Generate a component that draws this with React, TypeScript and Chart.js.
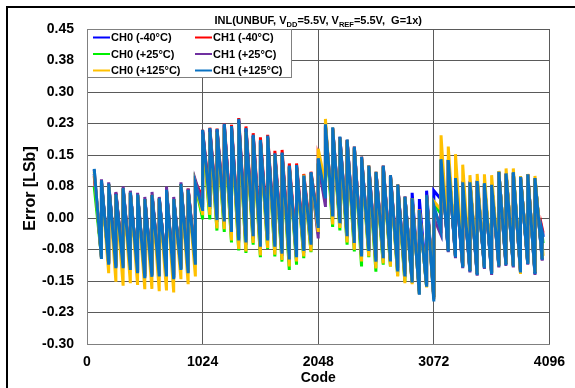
import React, { useEffect, useRef } from "react";
import { Chart, registerables } from "chart.js";

Chart.register(...registerables);

const FONT = '"Liberation Sans", Arial, sans-serif';

const SERIES_NAMES = ["CH0 (-40°C)", "CH1 (-40°C)", "CH0 (+25°C)", "CH1 (+25°C)", "CH0 (+125°C)", "CH1 (+125°C)"];
const SERIES_COLORS = ["#0000FF", "#FF0000", "#00F000", "#7030A0", "#FFC000", "#0A72C2"];

const X_TICKS = [0, 1024, 2048, 3072, 4096];
const Y_TICKS = [-0.3, -0.225, -0.15, -0.075, 0, 0.075, 0.15, 0.225, 0.3, 0.375, 0.45];
const Y_TICK_LABELS = ["-0.30", "-0.23", "-0.15", "-0.08", "0.00", "0.08", "0.15", "0.23", "0.30", "0.38", "0.45"];

// each tooth of the sawtooth spans 64 codes: peak at 64k, trough at 64k+63
const TOOTH = 64;
const LAST_CODE = 4040;

// CH0 (-40°C)
const CH0_M40_PEAKS = [
  0.105, 0.085, 0.08, 0.058, 0.07, 0.06, 0.055, 0.045, 0.055, 0.046, 0.066, 0.045, 0.08, 0.068, 0.085,
  0.205, 0.21, 0.208, 0.22, 0.215, 0.23, 0.21, 0.195, 0.183, 0.192, 0.15, 0.152, 0.122, 0.122, 0.098, 0.105,
  0.14, 0.218, 0.212, 0.19, 0.184, 0.167, 0.144, 0.122, 0.108, 0.122, 0.1, 0.078, 0.05, 0.06, 0.045, 0.065,
  0.065, 0.138, 0.138, 0.095, 0.088, 0.088, 0.09, 0.082, 0.08, 0.11, 0.106, 0.108, 0.098, 0.104, 0.094,
  -0.03,
];
const CH0_M40_TROUGHS = [
  -0.09, -0.104, -0.112, -0.112, -0.116, -0.124, -0.135, -0.135, -0.132, -0.132, -0.138, -0.116, -0.124, -0.104, 0.03,
  0.035, 0.0, 0.0, -0.025, -0.045, -0.05, -0.035, -0.06, -0.045, -0.06, -0.08, -0.09, -0.085, -0.07, -0.055, -0.02,
  0.05, 0.005, -0.01, -0.04, -0.055, -0.085, -0.072, -0.1, -0.09, -0.098, -0.12, -0.13, -0.145, -0.17, -0.155, -0.185,
  0.045, -0.074, -0.088, -0.112, -0.122, -0.13, -0.114, -0.128, -0.11, -0.11, -0.11, -0.125, -0.105, -0.128, -0.095,
  -0.045,
];

// CH1 (-40°C)
const CH1_M40_PEAKS = [
  0.1, 0.085, 0.08, 0.06, 0.07, 0.06, 0.055, 0.045, 0.055, 0.047, 0.065, 0.045, 0.08, 0.07, 0.085,
  0.21, 0.215, 0.213, 0.226, 0.222, 0.238, 0.218, 0.202, 0.192, 0.198, 0.16, 0.162, 0.13, 0.13, 0.105, 0.11,
  0.14, 0.22, 0.214, 0.192, 0.186, 0.17, 0.146, 0.125, 0.11, 0.125, 0.102, 0.08, 0.051, 0.047, 0.02, 0.055,
  0.02, 0.138, 0.138, 0.092, 0.082, 0.083, 0.085, 0.077, 0.077, 0.108, 0.105, 0.1, 0.098, 0.104, 0.092,
  -0.025,
];
const CH1_M40_TROUGHS = [
  -0.085, -0.1, -0.108, -0.108, -0.112, -0.12, -0.13, -0.13, -0.128, -0.128, -0.132, -0.112, -0.12, -0.1, 0.05,
  0.045, 0.01, 0.01, -0.015, -0.035, -0.04, -0.025, -0.05, -0.035, -0.05, -0.07, -0.08, -0.075, -0.06, -0.045, -0.01,
  0.06, 0.01, -0.005, -0.035, -0.05, -0.08, -0.07, -0.095, -0.085, -0.095, -0.115, -0.13, -0.145, -0.17, -0.155, -0.185,
  -0.02, -0.072, -0.088, -0.11, -0.12, -0.128, -0.112, -0.125, -0.108, -0.108, -0.108, -0.122, -0.102, -0.125, -0.09,
  -0.035,
];

// CH0 (+25°C)
const CH0_P25_PEAKS = [
  0.075, 0.085, 0.08, 0.055, 0.068, 0.06, 0.055, 0.045, 0.053, 0.045, 0.065, 0.045, 0.078, 0.065, 0.078,
  0.2, 0.205, 0.205, 0.215, 0.21, 0.225, 0.205, 0.19, 0.18, 0.19, 0.148, 0.15, 0.12, 0.12, 0.098, 0.103,
  0.13, 0.215, 0.21, 0.188, 0.18, 0.165, 0.14, 0.12, 0.105, 0.12, 0.098, 0.076, 0.048, 0.044, 0.017, 0.05,
  0.035, 0.14, 0.14, 0.1, 0.085, 0.085, 0.088, 0.083, 0.08, 0.11, 0.105, 0.108, 0.098, 0.103, 0.094,
  -0.04,
];
const CH0_P25_TROUGHS = [
  -0.09, -0.105, -0.112, -0.112, -0.118, -0.125, -0.135, -0.136, -0.133, -0.133, -0.138, -0.118, -0.125, -0.105, 0.0,
  0.0, -0.03, -0.03, -0.055, -0.074, -0.08, -0.06, -0.09, -0.07, -0.088, -0.104, -0.12, -0.108, -0.092, -0.078, -0.035,
  0.04, -0.018, -0.026, -0.06, -0.076, -0.112, -0.09, -0.128, -0.108, -0.112, -0.134, -0.148, -0.15, -0.176, -0.16, -0.185,
  0.01, -0.075, -0.088, -0.112, -0.122, -0.13, -0.115, -0.128, -0.11, -0.11, -0.11, -0.124, -0.105, -0.128, -0.094,
  -0.06,
];

// CH1 (+25°C)
const CH1_P25_PEAKS = [
  0.115, 0.092, 0.085, 0.062, 0.075, 0.065, 0.06, 0.05, 0.062, 0.05, 0.075, 0.05, 0.085, 0.07, 0.09,
  0.208, 0.212, 0.21, 0.222, 0.216, 0.232, 0.212, 0.196, 0.184, 0.194, 0.152, 0.154, 0.123, 0.124, 0.1, 0.107,
  0.13, 0.22, 0.214, 0.192, 0.185, 0.168, 0.145, 0.123, 0.108, 0.123, 0.1, 0.078, 0.05, 0.046, 0.018, 0.053,
  0.0, 0.138, 0.138, 0.092, 0.085, 0.085, 0.088, 0.08, 0.08, 0.11, 0.106, 0.108, 0.098, 0.104, 0.094,
  -0.03,
];
const CH1_P25_TROUGHS = [
  -0.092, -0.106, -0.114, -0.114, -0.118, -0.126, -0.138, -0.138, -0.134, -0.134, -0.14, -0.118, -0.126, -0.106, 0.035,
  0.025, -0.01, -0.01, -0.035, -0.055, -0.06, -0.045, -0.07, -0.055, -0.07, -0.09, -0.1, -0.095, -0.08, -0.065, -0.045,
  0.03, 0.0, -0.012, -0.043, -0.06, -0.09, -0.078, -0.106, -0.094, -0.102, -0.126, -0.138, -0.15, -0.178, -0.16, -0.19,
  -0.04, -0.078, -0.092, -0.116, -0.126, -0.134, -0.118, -0.132, -0.114, -0.114, -0.114, -0.128, -0.108, -0.132, -0.098,
  -0.04,
];

// CH0 (+125°C)
const CH0_P125_PEAKS = [
  0.11, 0.085, 0.08, 0.055, 0.07, 0.06, 0.055, 0.045, 0.055, 0.045, 0.065, 0.045, 0.08, 0.065, 0.08,
  0.2, 0.205, 0.205, 0.215, 0.21, 0.225, 0.205, 0.19, 0.18, 0.19, 0.15, 0.15, 0.12, 0.12, 0.103, 0.105,
  0.165, 0.236, 0.215, 0.19, 0.185, 0.168, 0.145, 0.125, 0.11, 0.122, 0.1, 0.08, 0.05, 0.047, 0.02, 0.05,
  0.04, 0.197, 0.17, 0.152, 0.127, 0.102, 0.105, 0.104, 0.102, 0.112, 0.118, 0.118, 0.1, 0.105, 0.1,
  -0.06,
];
const CH0_P125_TROUGHS = [
  -0.094, -0.128, -0.148, -0.158, -0.152, -0.156, -0.166, -0.169, -0.171, -0.169, -0.174, -0.142, -0.154, -0.136, 0.01,
  0.011, -0.025, -0.023, -0.05, -0.07, -0.076, -0.056, -0.086, -0.068, -0.084, -0.1, -0.112, -0.1, -0.088, -0.076, -0.03,
  0.08, -0.012, -0.02, -0.055, -0.072, -0.1, -0.088, -0.12, -0.105, -0.112, -0.136, -0.152, -0.154, -0.178, -0.162, -0.19,
  0.02, -0.07, -0.085, -0.11, -0.12, -0.128, -0.112, -0.126, -0.11, -0.108, -0.11, -0.13, -0.103, -0.125, -0.093,
  -0.09,
];

// CH1 (+125°C)
const CH1_P125_PEAKS = [
  0.117, 0.09, 0.082, 0.057, 0.071, 0.061, 0.056, 0.045, 0.055, 0.047, 0.067, 0.045, 0.081, 0.067, 0.082,
  0.21, 0.214, 0.212, 0.225, 0.219, 0.236, 0.214, 0.198, 0.186, 0.196, 0.154, 0.156, 0.125, 0.126, 0.101, 0.109,
  0.142, 0.223, 0.216, 0.194, 0.187, 0.17, 0.146, 0.125, 0.11, 0.125, 0.102, 0.08, 0.051, 0.047, 0.019, 0.055,
  0.03, 0.14, 0.138, 0.095, 0.085, 0.085, 0.088, 0.083, 0.079, 0.11, 0.106, 0.109, 0.098, 0.104, 0.095,
  -0.035,
];
const CH1_P125_TROUGHS = [
  -0.094, -0.108, -0.116, -0.116, -0.12, -0.128, -0.14, -0.14, -0.136, -0.136, -0.142, -0.12, -0.128, -0.108, 0.02,
  0.03, -0.005, -0.005, -0.03, -0.05, -0.055, -0.04, -0.065, -0.05, -0.065, -0.085, -0.095, -0.09, -0.075, -0.06, -0.02,
  0.05, 0.007, -0.009, -0.04, -0.056, -0.088, -0.075, -0.104, -0.092, -0.1, -0.124, -0.136, -0.15, -0.179, -0.16, -0.195,
  -0.03, -0.076, -0.09, -0.114, -0.124, -0.132, -0.116, -0.13, -0.112, -0.112, -0.112, -0.126, -0.106, -0.13, -0.096,
  -0.045,
];

const SERIES_PEAKS = [CH0_M40_PEAKS, CH1_M40_PEAKS, CH0_P25_PEAKS, CH1_P25_PEAKS, CH0_P125_PEAKS, CH1_P125_PEAKS];
const SERIES_TROUGHS = [CH0_M40_TROUGHS, CH1_M40_TROUGHS, CH0_P25_TROUGHS, CH1_P25_TROUGHS, CH0_P125_TROUGHS, CH1_P125_TROUGHS];

function buildPoints(peaks: number[], troughs: number[]) {
  const pts: { x: number; y: number }[] = [];
  for (let i = 0; i < peaks.length; i++) {
    const k = i + 1;
    pts.push({ x: k * TOOTH, y: peaks[i] });
    const tx = i === peaks.length - 1 ? LAST_CODE : k * TOOTH + TOOTH - 1;
    pts.push({ x: tx, y: troughs[i] });
  }
  return pts;
}

const CHART_LEFT = 87;
const CHART_TOP = 29;
const CHART_RIGHT = 550;
const CHART_BOTTOM = 344;
const W = 575;
const H = 388;

const decorPlugin = {
  id: "decor",
  beforeDraw(chart: any) {
    const ctx = chart.ctx;
    ctx.save();
    ctx.fillStyle = "#ffffff";
    ctx.fillRect(0, 0, chart.width, chart.height);
    ctx.restore();
  },
  afterDraw(chart: any) {
    const ctx = chart.ctx;
    const area = chart.chartArea;
    ctx.save();
    // outer frame (top & left visible)
    ctx.fillStyle = "#000000";
    ctx.fillRect(6, 6, W - 6, 2);
    ctx.fillRect(6, 6, 2, H - 6);

    // title with subscripts
    const parts = [
      { t: "INL(UNBUF, V", sub: false },
      { t: "DD", sub: true },
      { t: "=5.5V, V", sub: false },
      { t: "REF", sub: true },
      { t: "=5.5V,  G=1x)", sub: false },
    ];
    const mainFont = `bold 11px ${FONT}`;
    const subFont = `bold 7.5px ${FONT}`;
    let total = 0;
    for (const p of parts) {
      ctx.font = p.sub ? subFont : mainFont;
      total += ctx.measureText(p.t).width;
    }
    let x = (area.left + area.right) / 2 - total / 2;
    ctx.fillStyle = "#000";
    ctx.textBaseline = "alphabetic";
    ctx.textAlign = "left";
    for (const p of parts) {
      ctx.font = p.sub ? subFont : mainFont;
      ctx.fillText(p.t, x, p.sub ? 26.5 : 24);
      x += ctx.measureText(p.t).width;
    }

    // axis titles
    ctx.font = `bold 14px ${FONT}`;
    ctx.textAlign = "center";
    ctx.textBaseline = "middle";
    ctx.fillText("Code", (area.left + area.right) / 2, 378);
    ctx.save();
    ctx.font = `bold 16px ${FONT}`;
    ctx.translate(31, (area.top + area.bottom) / 2 + 2);
    ctx.rotate(-Math.PI / 2);
    ctx.fillText("Error [LSb]", 0, 0);
    ctx.restore();

    // legend box
    ctx.fillStyle = "#ffffff";
    ctx.fillRect(87.5, 29.5, 204, 48);
    ctx.strokeStyle = "#808080";
    ctx.lineWidth = 1;
    ctx.strokeRect(87.5, 29.5, 204, 48);
    const rowY = [37.5, 54, 70.5];
    const colX = [93, 195];
    ctx.font = `bold 11px ${FONT}`;
    ctx.textAlign = "left";
    ctx.textBaseline = "middle";
    for (let i = 0; i < SERIES_NAMES.length; i++) {
      const r = Math.floor(i / 2);
      const c = i % 2;
      const lx = colX[c];
      const ly = rowY[r];
      ctx.strokeStyle = SERIES_COLORS[i];
      ctx.lineWidth = 2;
      ctx.beginPath();
      ctx.moveTo(lx, ly);
      ctx.lineTo(lx + 17, ly);
      ctx.stroke();
      ctx.fillStyle = "#000";
      ctx.fillText(SERIES_NAMES[i], lx + 18, ly + 0.5);
    }
    ctx.restore();
  },
};

export default function App() {
  const ref = useRef<HTMLCanvasElement | null>(null);

  useEffect(() => {
    if (!ref.current) return;
    const datasets = SERIES_NAMES.map((name, i) => ({
      label: name,
      data: buildPoints(SERIES_PEAKS[i], SERIES_TROUGHS[i]),
      borderColor: SERIES_COLORS[i],
      backgroundColor: SERIES_COLORS[i],
      borderWidth: 3,
      pointRadius: 0,
      tension: 0,
      fill: false,
      order: SERIES_NAMES.length - 1 - i,
    }));

    const chart = new Chart(ref.current, {
      type: "line",
      data: { datasets },
      options: {
        responsive: false,
        animation: false,
        parsing: true,
        layout: { padding: { top: CHART_TOP, right: W - CHART_RIGHT, left: 0, bottom: 0 } },
        plugins: {
          legend: { display: false },
          tooltip: { enabled: false },
          title: { display: false },
        },
        scales: {
          x: {
            type: "linear",
            min: 0,
            max: 4096,
            afterBuildTicks: (s: any) => {
              s.ticks = X_TICKS.map((v) => ({ value: v }));
            },
            afterFit: (s: any) => {
              s.height = H - CHART_BOTTOM;
            },
            ticks: {
              color: "#000",
              font: { family: FONT, size: 14, weight: "bold" },
              padding: 10,
              maxRotation: 0,
              autoSkip: false,
              callback: (v: any) => String(v),
            },
            grid: { color: "#5a5a5a", lineWidth: 1, drawTicks: false },
            border: { color: "#808080", width: 1 },
          },
          y: {
            type: "linear",
            min: -0.3,
            max: 0.45,
            afterBuildTicks: (s: any) => {
              s.ticks = Y_TICKS.map((v) => ({ value: v }));
            },
            afterFit: (s: any) => {
              s.width = CHART_LEFT;
            },
            ticks: {
              color: "#000",
              font: { family: FONT, size: 14, weight: "bold" },
              padding: 13,
              autoSkip: false,
              callback: (v: any) => {
                const idx = Y_TICKS.findIndex((t) => Math.abs(t - v) < 1e-6);
                return idx >= 0 ? Y_TICK_LABELS[idx] : "";
              },
            },
            grid: { color: "#5a5a5a", lineWidth: 1, drawTicks: false },
            border: { color: "#808080", width: 1 },
          },
        },
      },
      plugins: [decorPlugin],
    });
    return () => chart.destroy();
  }, []);

  return (
    <div style={{ position: "absolute", left: 0, top: 0, width: W, height: H }}>
      <canvas ref={ref} width={W} height={H} style={{ display: "block", width: W, height: H }} />
    </div>
  );
}
